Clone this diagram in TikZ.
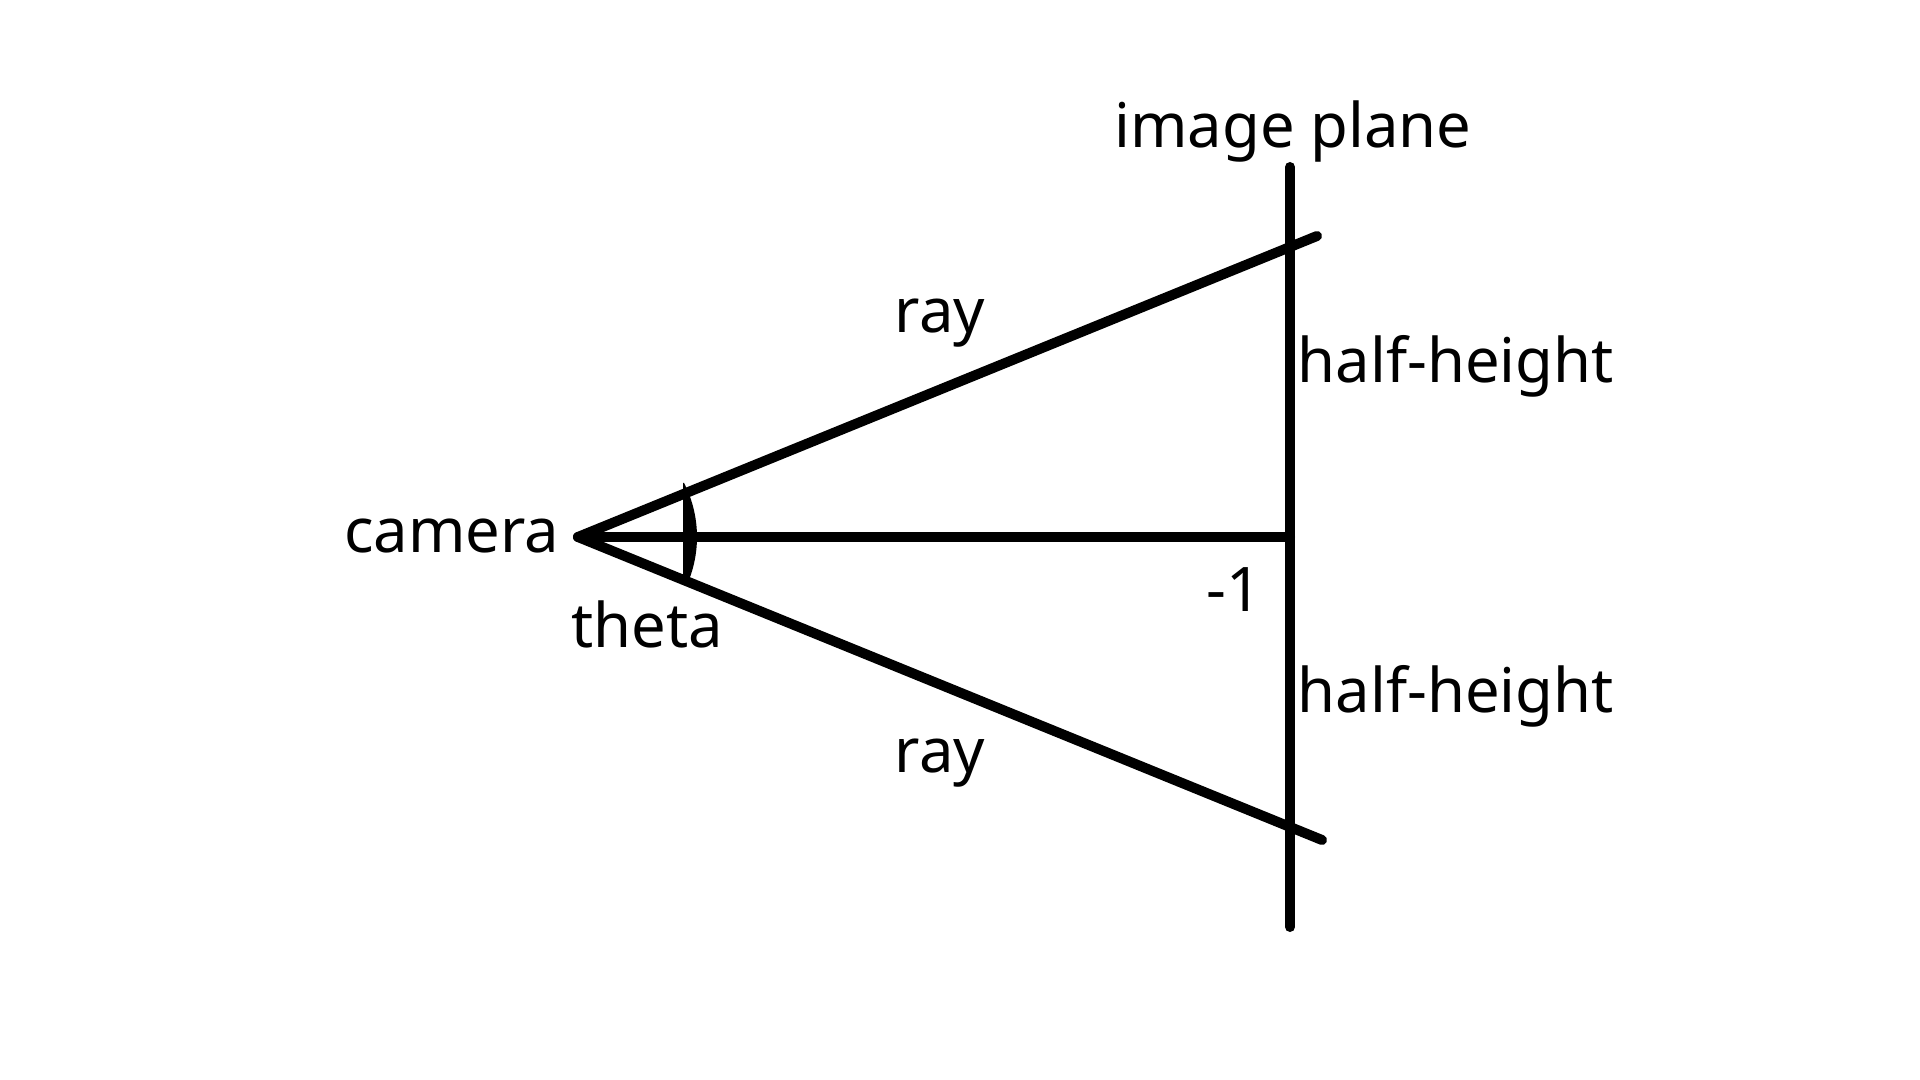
\documentclass[tikz,border=0pt]{standalone}
\usepackage{fontspec}
\setmainfont{Noto Sans}
\usepackage{tikz}
\usetikzlibrary{arrows}

\tikzset{trait/.style={line width=2.85pt, line cap=round},
         lbl/.style={inner sep=0pt, font=\fontsize{17.5}{20}\selectfont}}

\begin{document}
\begin{tikzpicture}
\useasboundingbox[fill=white] (-5.78,-5.43) rectangle (13.42,5.37);
\coordinate (cam) at (0,0) ;
\coordinate (haut) at (7.12,3.70) ;
\coordinate (bas) at (7.12,-3.90) ;
\coordinate (milieu) at (7.12,0) ;
\coordinate (rayh) at (7.39,3.01) ;
\coordinate (rayb) at (7.44,-3.03) ;
\draw[trait] (haut) -- (bas) ;
\draw[trait] (cam) -- (rayh) ;
\draw[trait] (cam) -- (rayb) ;
\draw[trait] (cam) -- (milieu) ;
\fill (1.05,0.54) -- (1.05,-0.41) -- (-20:1.19) arc (-20:27:1.19) -- cycle;
\node[lbl, anchor=base] (plan) at (7.15,3.89) {image plane} ;
\node[lbl, anchor=base west] (hh1) at (7.19,1.54) {half-height} ;
\node[lbl, anchor=base west] (hh2) at (7.19,-1.76) {half-height} ;
\node[lbl, anchor=base east] (moins) at (6.84,-0.75) {-1} ;
\node[lbl, anchor=base] (r1) at (3.62,2.04) {ray} ;
\node[lbl, anchor=base] (r2) at (3.62,-2.36) {ray} ;
\node[lbl, anchor=base east] (camera) at (-0.18,-0.16) {camera} ;
\node[lbl, anchor=base] (theta) at (0.69,-1.10) {theta} ;
\end{tikzpicture}
\end{document}
